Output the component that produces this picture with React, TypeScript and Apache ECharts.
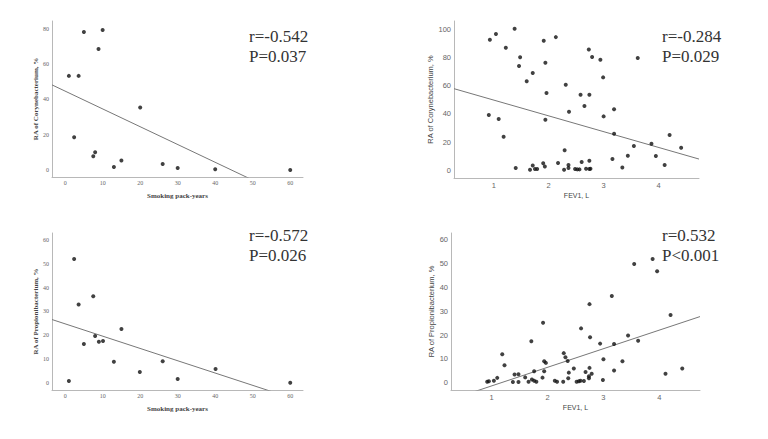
import React, { useEffect, useRef } from "react";
import * as echarts from "echarts";

// Panel 1: Smoking pack-years vs RA of Corynebacterium
const smokeCoryX = [1, 3.6, 5, 10, 8.9, 2.4, 7.5, 8, 13, 15, 20, 26, 30, 40, 60];
const smokeCoryY = [53.3, 53.3, 78.1, 79.2, 68.5, 18.6, 7.9, 10.2, 1.9, 5.5, 35.4, 3.6, 1.3, 0.6, 0.2];
const smokeCoryFit = [44.7, -1.005]; // intercept, slope

// Panel 2: FEV1 vs RA of Corynebacterium
const fevCoryX = [0.93, 1.04, 1.38, 1.22, 2.13, 1.91, 1.48, 1.46, 1.71, 1.6, 1.94, 1.96, 2.31, 2.73, 2.79, 2.94, 2.99, 2.58, 2.74, 2.65, 2.37, 3.0, 3.19, 3.62, 1.94, 0.91, 1.09, 1.18, 3.19, 3.55, 3.87, 4.2, 4.41, 2.29, 3.44, 3.95, 3.16, 3.34, 4.11, 1.4, 1.66, 1.71, 1.75, 1.79, 1.9, 1.93, 2.17, 2.28, 2.36, 2.36, 2.48, 2.52, 2.56, 2.6, 2.68, 2.74, 2.76, 2.74];
const fevCoryY = [92.5, 96.5, 100.2, 86.8, 94.3, 91.7, 80.0, 73.8, 68.9, 63.0, 76.2, 54.7, 60.6, 85.6, 80.2, 78.3, 65.8, 53.5, 53.5, 45.5, 41.5, 38.2, 43.2, 79.5, 35.8, 39.2, 36.3, 23.8, 25.9, 17.2, 18.9, 25.0, 16.0, 14.2, 10.4, 10.1, 8.0, 2.1, 3.8, 1.7, 0.5, 3.5, 0.9, 0.9, 5.0, 2.8, 5.2, 0.5, 3.8, 1.7, 0.9, 0.7, 0.7, 5.9, 1.2, 0.9, 1.2, 6.8];
const fevCoryFit = [60.9, -11.17];

// Panel 3: Smoking pack-years vs RA of Propionibacterium
const smokePropX = [1, 2.4, 3.6, 5, 7.5, 8, 9, 10.1, 13, 15, 19.9, 26, 30, 40.1, 60];
const smokePropY = [0.8, 52.0, 32.9, 16.3, 36.4, 19.7, 17.3, 17.6, 8.9, 22.6, 4.6, 9.1, 1.7, 5.9, 0.1];
const smokePropFit = [24.8, -0.516];

// Panel 4: FEV1 vs RA of Propionibacterium
const fevPropX = [0.92, 0.95, 1.04, 1.1, 1.19, 1.23, 1.38, 1.41, 1.48, 1.48, 1.6, 1.66, 1.71, 1.72, 1.76, 1.76, 1.8, 1.91, 1.92, 1.94, 1.94, 1.97, 2.13, 2.17, 2.28, 2.29, 2.32, 2.36, 2.38, 2.37, 2.47, 2.52, 2.56, 2.59, 2.6, 2.65, 2.68, 2.74, 2.74, 2.75, 2.75, 2.76, 2.79, 2.94, 2.99, 3.0, 3.15, 3.19, 3.19, 3.34, 3.44, 3.55, 3.62, 3.88, 3.96, 4.11, 4.2, 4.41];
const fevPropY = [0.4, 0.6, 0.8, 2.0, 11.9, 7.3, 0.3, 3.4, 3.5, 0.3, 2.2, 0.4, 17.4, 1.3, 4.8, 0.8, 0.4, 2.1, 25.2, 4.8, 9.0, 8.3, 0.8, 0.4, 0.4, 12.4, 10.7, 9.1, 4.2, 1.8, 5.9, 0.4, 0.6, 0.8, 22.8, 0.7, 4.5, 1.8, 2.7, 6.2, 33.0, 19.1, 3.7, 16.4, 1.1, 9.8, 36.4, 16.2, 5.1, 9.0, 19.8, 49.9, 17.6, 52.0, 46.8, 3.7, 28.4, 5.9];
const fevPropFit = [-9.2, 7.82];

const smokeTicksX = [0, 10, 20, 30, 40, 50, 60];
const fevTicksX = [1, 2, 3, 4];
const coryTicksY1 = [0, 20, 40, 60, 80];
const coryTicksY2 = [0, 20, 40, 60, 80, 100];
const propTicksY = [0, 10, 20, 30, 40, 50, 60];

const statLines = [
  ["r=-0.542", "P=0.037"],
  ["r=-0.284", "P=0.029"],
  ["r=-0.572", "P=0.026"],
  ["r=0.532", "P<0.001"],
];

const xNames = ["Smoking pack-years", "FEV1, L", "Smoking pack-years", "FEV1, L"];
const yNames = ["RA of Corynebacterium, %", "RA of Corynebacterium, %", "RA of Propionibacterium, %", "RA of Propionibacterium, %"];

const SERIF = "Liberation Serif";
const SANS = "Liberation Sans";

export default function App() {
  const ref = useRef<HTMLDivElement>(null);
  useEffect(() => {
    if (!ref.current) return;
    const chart = echarts.init(ref.current, null, { renderer: "svg" });

    const panels = [
      { grid: { left: 52, top: 21, width: 251, height: 156 }, xr: [-3.5, 63.4], yr: [-3.8, 84.3], xt: smokeTicksX, yt: coryTicksY1, xs: smokeCoryX, ys: smokeCoryY, fit: smokeCoryFit, serif: true, yGap: 13, xGap: 15 },
      { grid: { left: 454, top: 21, width: 245, height: 157 }, xr: [0.277, 4.735], yr: [-5.4, 105.7], xt: fevTicksX, yt: coryTicksY2, xs: fevCoryX, ys: fevCoryY, fit: fevCoryFit, serif: false, yGap: 19, xGap: 14 },
      { grid: { left: 52, top: 233, width: 251, height: 157 }, xr: [-3.5, 63.4], yr: [-2.95, 62.9], xt: smokeTicksX, yt: propTicksY, xs: smokePropX, ys: smokePropY, fit: smokePropFit, serif: true, yGap: 13, xGap: 15 },
      { grid: { left: 451, top: 233, width: 249, height: 157 }, xr: [0.273, 4.727], yr: [-3.1, 62.9], xt: fevTicksX, yt: propTicksY, xs: fevPropX, ys: fevPropY, fit: fevPropFit, serif: false, yGap: 15, xGap: 14 },
    ];

    const grids: any[] = [];
    const xAxes: any[] = [];
    const yAxes: any[] = [];
    const series: any[] = [];
    const graphics: any[] = [];
    const textPos = [
      { x: 249, y: 36 },
      { x: 662, y: 36 },
      { x: 249, y: 235 },
      { x: 662, y: 235 },
    ];

    panels.forEach((p, i) => {
      grids.push({ ...p.grid, containLabel: false });
      const font = p.serif ? SERIF : SANS;
      const common = {
        type: "value",
        gridIndex: i,
        splitLine: { show: false },
        axisTick: { show: false },
        axisLine: { show: true, onZero: false, lineStyle: { color: "#b8b8b8", width: 1 } },
      };
      xAxes.push({
        ...common,
        min: p.xr[0],
        max: p.xr[1],
        name: xNames[i],
        nameLocation: "middle",
        nameGap: p.xGap,
        nameTextStyle: { fontFamily: font, fontSize: 7, fontWeight: p.serif ? "bold" : "normal", color: "#444" },
        axisLabel: { customValues: p.xt, fontFamily: font, fontSize: p.serif ? 6 : 7.5, color: "#666", margin: 3 },
      });
      yAxes.push({
        ...common,
        min: p.yr[0],
        max: p.yr[1],
        name: yNames[i],
        nameLocation: "middle",
        nameGap: p.yGap,
        nameRotate: 90,
        nameTextStyle: { fontFamily: font, fontSize: p.serif ? 7 : 7.5, fontWeight: p.serif ? "bold" : "normal", color: "#444" },
        axisLabel: { customValues: p.yt, fontFamily: font, fontSize: p.serif ? 6 : 7.5, color: "#666", margin: 3 },
      });
      series.push({
        type: "scatter",
        xAxisIndex: i,
        yAxisIndex: i,
        symbol: "circle",
        symbolSize: 4,
        itemStyle: { color: "#111" },
        data: p.xs.map((x, k) => [x, p.ys[k]]),
        z: 3,
      });
      const [b0, b1] = p.fit;
      series.push({
        type: "line",
        xAxisIndex: i,
        yAxisIndex: i,
        symbol: "none",
        clip: true,
        lineStyle: { color: "#777", width: 1 },
        data: [
          [p.xr[0], b0 + b1 * p.xr[0]],
          [p.xr[1], b0 + b1 * p.xr[1]],
        ],
        z: 2,
      });
      statLines[i].forEach((t, k) => {
        graphics.push({
          type: "text",
          x: textPos[i].x,
          y: textPos[i].y + k * 20,
          style: {
            text: t,
            fontFamily: SERIF,
            fontSize: 17,
            fill: "#333",
            verticalAlign: "middle",
            align: "left",
          },
        });
      });
    });

    chart.setOption({
      animation: false,
      backgroundColor: "#ffffff",
      grid: grids,
      xAxis: xAxes,
      yAxis: yAxes,
      series,
      graphic: graphics,
    });
    return () => chart.dispose();
  }, []);

  return (
    <div
      ref={ref}
      style={{ position: "absolute", left: 0, top: 0, width: 768, height: 439 }}
    />
  );
}
